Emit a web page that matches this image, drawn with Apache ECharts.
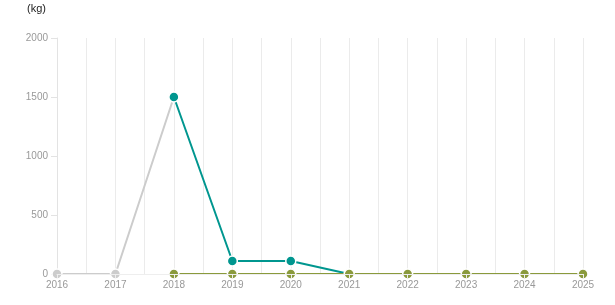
<!DOCTYPE html>
<html><head><meta charset="utf-8">
<script src="https://cdn.jsdelivr.net/npm/echarts@6/dist/echarts.min.js"></script>
<style>html,body{margin:0;padding:0;background:#fff}#c{width:615px;height:305px}</style>
</head><body><div id="c"></div>
<script>
var years = [2016, 2017, 2018, 2019, 2020, 2021, 2022, 2023, 2024, 2025];
var grayVals  = [0, 0, 1500, null, null, null, null, null, null, null];
var tealVals  = [null, null, 1500, 110, 110, 0, null, null, null, null];
var oliveVals = [null, null, 0, 0, 0, 0, 0, 0, 0, 0];
var yTicks = [0, 500, 1000, 1500, 2000];

function pairs(vals){ return years.map(function(y,i){ return [y, vals[i]]; }); }
var chart = echarts.init(document.getElementById('c'), null, {renderer:'canvas'});
function mk(color, vals, z){
  return {type:'line', data:pairs(vals), z:z, color:color, connectNulls:false,
    symbol:'circle', symbolSize:10, showSymbol:true,
    lineStyle:{color:color, width:2},
    itemStyle:{color:color, borderColor:'#fff', borderWidth:1.5},
    animation:false};
}
var font = 'Arial, Liberation Sans';
chart.setOption({
  animation:false,
  title:{text:'(kg)', left:22, top:-2, textStyle:{fontSize:11, fontWeight:'normal', color:'#222', fontFamily:font}},
  grid:{left:57, right:32, top:38, bottom:31},
  xAxis:[{type:'value', min:2016, max:2025, interval:1,
    axisLine:{show:true, lineStyle:{color:'#e3e3e3', width:1}},
    axisTick:{show:false},
    axisLabel:{color:'#999', fontSize:10, margin:6, fontFamily:font, formatter:function(v){return String(v);}},
    splitLine:{show:true, lineStyle:{color:'#ebebeb'}},
    minorTick:{show:false, splitNumber:2},
    minorSplitLine:{show:true, lineStyle:{color:'#ebebeb'}}
  },{type:'value', min:2016, max:2025, interval:1, position:'bottom', z:10,
    axisLine:{show:true, lineStyle:{color:'#eeeeee', width:1}},
    axisTick:{show:true, length:4, lineStyle:{color:'#eeeeee'}},
    axisLabel:{show:false}, splitLine:{show:false}
  }],
  yAxis:{type:'value', min:yTicks[0], max:yTicks[yTicks.length-1], interval:500,
    axisLine:{show:true, lineStyle:{color:'#e3e3e3'}},
    axisTick:{show:true, length:6, lineStyle:{color:'#e3e3e3'}},
    axisLabel:{color:'#999', fontSize:10, margin:9, fontFamily:font, formatter:function(v){return String(v);}},
    splitLine:{show:false}
  },
  series:[mk('#cccccc', grayVals, 2), mk('#00968f', tealVals, 3), mk('#8a9a3c', oliveVals, 4)]
});
</script></body></html>
